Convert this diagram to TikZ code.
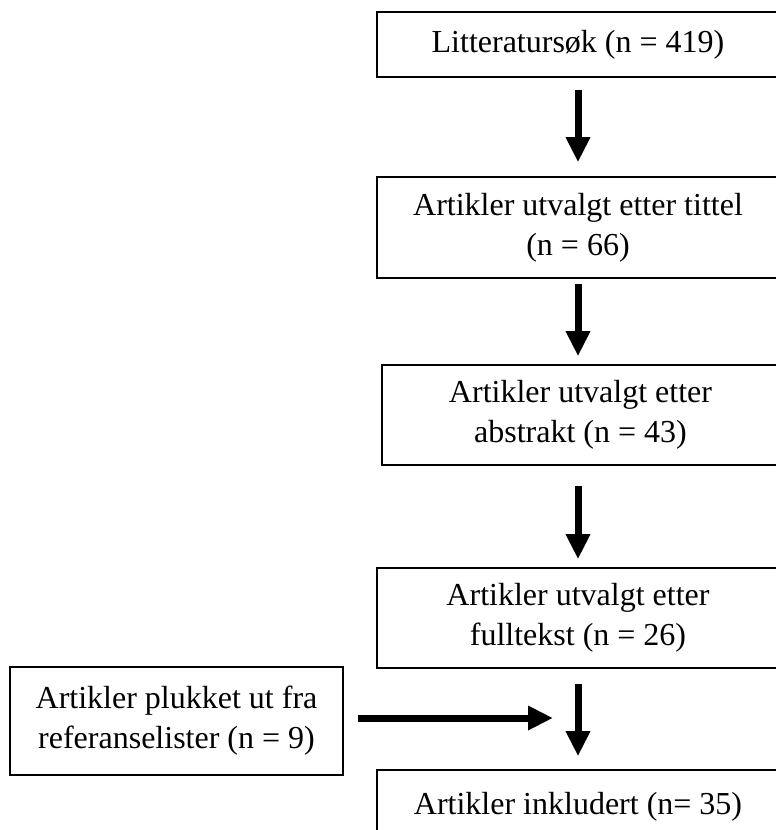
\documentclass[tikz,border=0pt]{standalone}
\usepackage{fontspec}
\setmainfont{Liberation Serif}
\usetikzlibrary{arrows.meta}

\begin{document}
\begin{tikzpicture}[x=1pt, y=-1pt,
  box/.style={draw, line width=1.6pt, rectangle, inner sep=0pt, align=center,
    font=\fontsize{32pt}{40pt}\selectfont},
  arr/.style={line width=7pt, -{Triangle[width=23pt, length=25pt]}}]
\useasboundingbox (0, 0) rectangle (776, 830);
% Boxes
\node[box, minimum width=402pt, minimum height=65pt] (b1) at (578, 44.5) {Litteratursøk (n = 419)};
\node[box, minimum width=402pt, minimum height=101pt] (b2) at (578, 227.5) {Artikler utvalgt etter tittel\\(n = 66)};
\node[box, minimum width=397pt, minimum height=100pt] (b3) at (580.5, 415) {Artikler utvalgt etter\\abstrakt (n = 43)};
\node[box, minimum width=402pt, minimum height=100pt] (b4) at (578, 618) {Artikler utvalgt etter\\fulltekst (n = 26)};
\node[box, minimum width=402pt, minimum height=74pt] (b5) at (578, 807) {Artikler inkludert (n= 35)};
\node[box, minimum width=333pt, minimum height=108pt] (ref) at (176.5, 721) {Artikler plukket ut fra\\referanselister (n = 9)};
\coordinate (join) at (579, 718);
% Arrows
\draw[arr, shorten <=12pt, shorten >=14pt] (b1.south) -- (b2.north);
\draw[arr, shorten <=5pt, shorten >=8pt] (b2.south) -- (b2.south |- b3.north);
\draw[arr, shorten <=20pt, shorten >=8pt] (b3.south -| b2.south) -- (b4.north);
\draw[arr, shorten <=15pt, shorten >=13pt] (b4.south) -- (b5.north);
\draw[arr, shorten <=14pt, shorten >=26pt] (join -| ref.east) -- (join);
\end{tikzpicture}
\end{document}
